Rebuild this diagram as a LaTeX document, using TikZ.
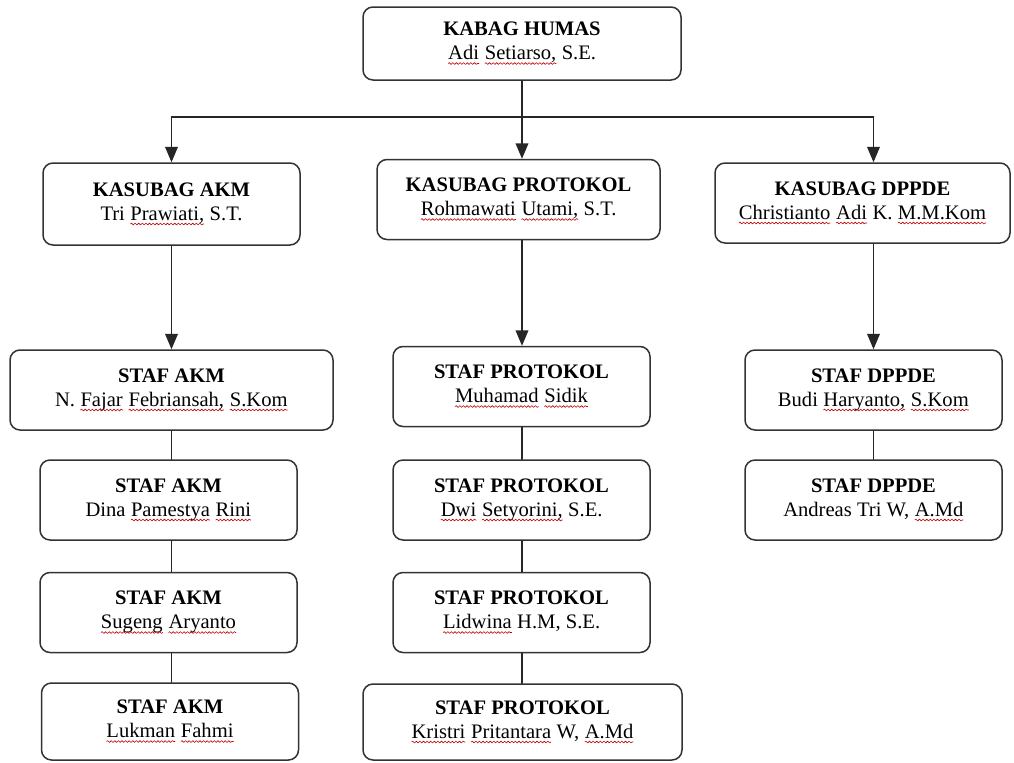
\documentclass[tikz,border=0pt]{standalone}
\usepackage{fontspec}
\setmainfont{Liberation Serif}
\usetikzlibrary{arrows,decorations.pathmorphing}
\newcommand\wavy[1]{\tikz[baseline=(w.base),x=1pt,y=1pt,sharp corners]{\node[inner sep=0pt,outer sep=0pt,draw=none,sharp corners,minimum width=0pt,minimum height=0pt] (w) {#1};
  \draw[red!75!black,line width=0.3pt,sharp corners,decorate,decoration={snake,amplitude=0.45pt,segment length=1.8pt}] ([yshift=-1.8pt]w.base west) -- ([yshift=-1.8pt]w.base east);}}

\begin{document}
\begin{tikzpicture}[line cap=round,line join=round,>=triangle 45,x=0.5pt,y=-0.5pt,
    box/.style={draw=black!80,line width=0.75pt,rounded corners=5pt,align=center,inner sep=2pt,
      minimum width=128.5pt,minimum height=40pt,font=\fontsize{10.3}{12}\selectfont}]
    \useasboundingbox (0,0) rectangle (1014,762);
    \node[box,minimum width=159pt,minimum height=36.5pt] (kabag) at (522,43.5) {\textbf{KABAG HUMAS}\\\wavy{Adi} \wavy{Setiarso,} S.E.};
    \node[box,minimum height=41pt] (kakm) at (171.5,204) {\textbf{KASUBAG AKM}\\Tri \wavy{Prawiati,} S.T.};
    \node[box,minimum width=141.5pt] (kprot) at (518.5,199.5) {\textbf{KASUBAG PROTOKOL}\\\wavy{Rohmawati} \wavy{Utami,} S.T.};
    \node[box,minimum width=147.5pt] (kdppde) at (862.5,203) {\textbf{KASUBAG DPPDE}\\\wavy{Christianto} \wavy{Adi} K. \wavy{M.M.Kom}};
    \node[box,minimum width=161.5pt] (akm1) at (171.5,390) {\textbf{STAF AKM}\\N. \wavy{Fajar} \wavy{Febriansah,} \wavy{S.Kom}};
    \node[box] (akm2) at (168.5,500) {\textbf{STAF AKM}\\Dina \wavy{Pamestya} \wavy{Rini}};
    \node[box] (akm3) at (168.5,612.5) {\textbf{STAF AKM}\\\wavy{Sugeng} \wavy{Aryanto}};
    \node[box,minimum height=38.5pt] (akm4) at (170,721.5) {\textbf{STAF AKM}\\\wavy{Lukman} \wavy{Fahmi}};
    \node[box] (prot1) at (521.5,386.5) {\textbf{STAF PROTOKOL}\\\wavy{Muhamad} \wavy{Sidik}};
    \node[box] (prot2) at (521.5,500) {\textbf{STAF PROTOKOL}\\\wavy{Dwi} \wavy{Setyorini,} S.E.};
    \node[box] (prot3) at (521.5,612.5) {\textbf{STAF PROTOKOL}\\\wavy{Lidwina} H.M, S.E.};
    \node[box,minimum width=159.5pt,minimum height=38pt] (prot4) at (522.5,722) {\textbf{STAF PROTOKOL}\\\wavy{Kristri} \wavy{Pritantara} W, \wavy{A.Md}};
    \node[box] (dppde1) at (873.5,390) {\textbf{STAF DPPDE}\\Budi \wavy{Haryanto,} \wavy{S.Kom}};
    \node[box] (dppde2) at (873.5,500) {\textbf{STAF DPPDE}\\Andreas Tri W, \wavy{A.Md}};
    \coordinate (bus) at (0,117);
    \begin{scope}[color=black!85,line width=0.75pt]
    \draw (kabag.south) -- (kabag.south |- bus);
    \draw (kakm.north |- bus) -- (dppde1.north |- bus);
    \draw[->] (kakm.north |- bus) -- (kakm.north);
    \draw[->] (kabag.south |- bus) -- (kabag.south |- kprot.north);
    \draw[->] (dppde1.north |- bus) -- (dppde1.north |- kdppde.north);
    \draw[->] (kakm.south) -- (kakm.south |- akm1.north);
    \draw[->] (kabag.south |- kprot.south) -- (kabag.south |- prot1.north);
    \draw[->] (dppde1.north |- kdppde.south) -- (dppde1.north);
    \foreach \a/\b/\c in {akm1/akm2/kakm,akm2/akm3/kakm,akm3/akm4/kakm,prot1/prot2/kabag,prot2/prot3/kabag,prot3/prot4/kabag,dppde1/dppde2/dppde1}
    \draw (\c |- \a.south) -- (\c |- \b.north);
    \end{scope}
\end{tikzpicture}
\end{document}
